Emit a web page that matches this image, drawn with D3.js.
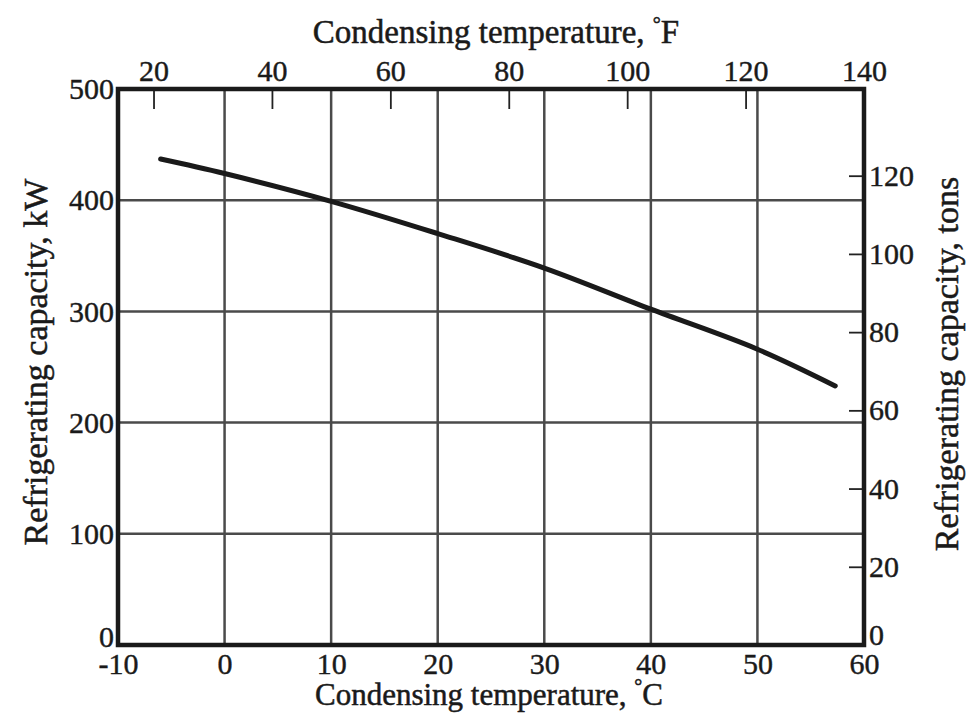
<!DOCTYPE html>
<html>
<head>
<meta charset="utf-8">
<script src="https://cdn.jsdelivr.net/npm/d3@7"></script>
<style>
  body { margin: 0; background: #fff; }
  svg text { font-family: "Liberation Serif", "DejaVu Serif", serif; fill: #1a1a1a; }
  .axis path, .axis line { stroke: #222; }
</style>
</head>
<body>
<div id="chart"></div>
<script>
// chart data
const tempC = [-6, 0, 10, 20, 30, 40, 50, 57.3];
const capKW = [437, 424, 399, 370, 339, 302, 266, 233];

const ticksC = [-10, 0, 10, 20, 30, 40, 50, 60];
const ticksKW = [0, 100, 200, 300, 400, 500];
const ticksF = [20, 40, 60, 80, 100, 120, 140];
const ticksTons = [0, 20, 40, 60, 80, 100, 120];

const KW_PER_TON = 3.517;

const width = 978, height = 721;
const plot = { left: 118, right: 864, top: 89, bottom: 645 };

const svg = d3.select('#chart').append('svg')
  .attr('width', width)
  .attr('height', height);

// scales
const x = d3.scaleLinear().domain([-10, 60]).range([plot.left, plot.right]);
const y = d3.scaleLinear().domain([0, 500]).range([plot.bottom, plot.top]);
const xF = d3.scaleLinear().domain([-10 * 1.8 + 32, 60 * 1.8 + 32]).range([plot.left, plot.right]);
const yT = d3.scaleLinear().domain([0, 500 / KW_PER_TON]).range([plot.bottom, plot.top]);

// grid
svg.append('g').selectAll('line.vg')
  .data(ticksC.slice(1, -1))
  .enter().append('line')
  .attr('x1', d => x(d)).attr('x2', d => x(d))
  .attr('y1', plot.top).attr('y2', plot.bottom)
  .attr('stroke', '#4a4a4a').attr('stroke-width', 2.5);

svg.append('g').selectAll('line.hg')
  .data(ticksKW.slice(1, -1))
  .enter().append('line')
  .attr('x1', plot.left).attr('x2', plot.right)
  .attr('y1', d => y(d)).attr('y2', d => y(d))
  .attr('stroke', '#4a4a4a').attr('stroke-width', 2.5);

// axes
const fontSize = 30;
const fmt = d => String(d);

const gBottom = svg.append('g').attr('class', 'axis')
  .attr('transform', `translate(0,${plot.bottom})`)
  .call(d3.axisBottom(x).tickValues(ticksC).tickFormat(fmt).tickSize(0).tickPadding(8));

const gLeft = svg.append('g').attr('class', 'axis')
  .attr('transform', `translate(${plot.left},0)`)
  .call(d3.axisLeft(y).tickValues(ticksKW).tickFormat(fmt).tickSize(0).tickPadding(4));

const gTop = svg.append('g').attr('class', 'axis')
  .attr('transform', `translate(0,${plot.top})`)
  .call(d3.axisTop(xF).tickValues(ticksF).tickFormat(fmt).tickSizeInner(-20).tickSizeOuter(0).tickPadding(8));

const gRight = svg.append('g').attr('class', 'axis')
  .attr('transform', `translate(${plot.right},0)`)
  .call(d3.axisRight(yT).tickValues(ticksTons).tickFormat(fmt).tickSizeInner(-15).tickSizeOuter(0).tickPadding(5));

[gBottom, gLeft, gTop, gRight].forEach(g => {
  g.select('.domain').remove();
  g.selectAll('text')
    .style('font-size', fontSize + 'px')
    .attr('fill', '#1a1a1a')
    .attr('stroke', '#1a1a1a')
    .attr('stroke-width', 0.4);
  g.selectAll('line').attr('stroke-width', 1.8);
});

gLeft.selectAll('.tick').filter(d => d === 0).select('text').attr('dy', '0.05em');
gRight.selectAll('.tick').filter(d => d === 0).select('text').attr('dy', '-0.02em');

// frame
svg.append('rect')
  .attr('x', plot.left).attr('y', plot.top)
  .attr('width', plot.right - plot.left)
  .attr('height', plot.bottom - plot.top)
  .attr('fill', 'none')
  .attr('stroke', '#1a1a1a')
  .attr('stroke-width', 4.5);

// curve
const line = d3.line()
  .x((d, i) => x(tempC[i]))
  .y(d => y(d))
  .curve(d3.curveCatmullRom);

svg.append('path')
  .datum(capKW)
  .attr('d', line)
  .attr('fill', 'none')
  .attr('stroke', '#1a1a1a')
  .attr('stroke-width', 5)
  .attr('stroke-linecap', 'round');

// axis titles
const addTitle = (tx, ty, rot, size, main, unit) => {
  const t = svg.append('text')
    .attr('transform', `translate(${tx},${ty}) rotate(${rot})`)
    .attr('text-anchor', 'middle')
    .attr('stroke', '#1a1a1a')
    .attr('stroke-width', 0.5)
    .style('font-size', size + 'px');
  t.append('tspan').text(main);
  if (unit) {
    t.append('tspan').attr('dy', -12).style('font-size', '20px').text('°');
    t.append('tspan').attr('dy', 12).text(unit);
  }
};

addTitle(496, 43, 0, 33, 'Condensing temperature, ', 'F');
addTitle(489, 705, 0, 31, 'Condensing temperature, ', 'C');
addTitle(47, 362, -90, 34, 'Refrigerating capacity, kW');
addTitle(958, 364, -90, 34, 'Refrigerating capacity, tons');
</script>
</body>
</html>
